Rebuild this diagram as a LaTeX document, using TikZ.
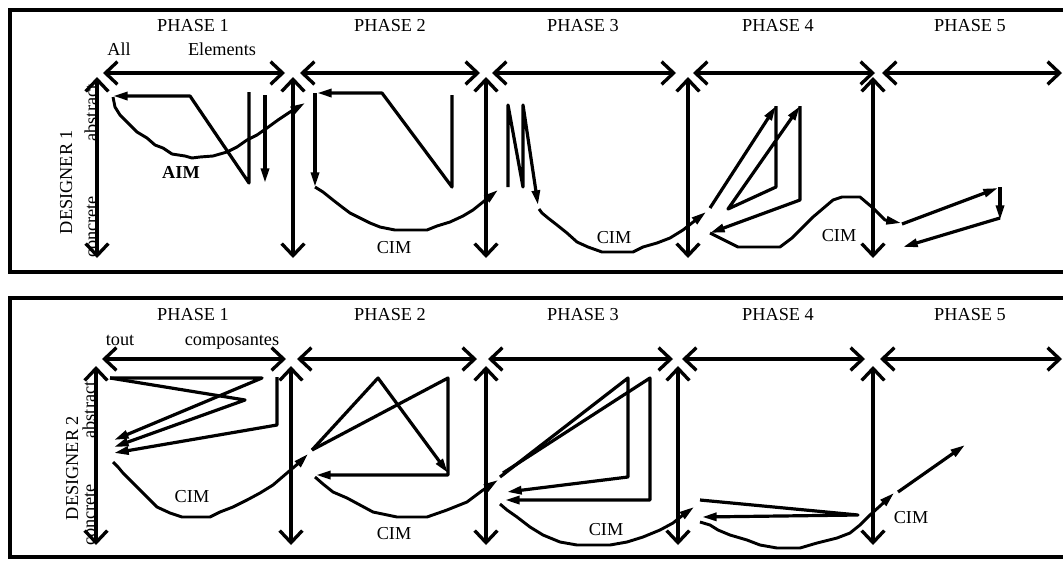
\documentclass[tikz,border=0pt]{standalone}
\usepackage{fontspec}
\setmainfont{Liberation Serif}
\usetikzlibrary{arrows.meta}
\begin{document}
\begin{tikzpicture}[x=0.75pt,y=-0.75pt,
  lbl/.style={font=\fontsize{13.7}{16}\selectfont, inner sep=0pt, anchor=base},
  vlbl/.style={lbl, rotate=90},
  frame/.style={line width=2.3pt},
  axis/.style={line width=2.5pt, {Straight Barb[length=9pt,width=17pt]}-{Straight Barb[length=9pt,width=17pt]}},
  sk/.style={line width=2.4pt, line join=round},
  arr/.style={sk, -{Triangle[length=11pt,width=6pt]}},
  wav/.style={line width=2.2pt, line join=round},
  warr/.style={wav, -{Triangle[length=11pt,width=6pt]}}]
\useasboundingbox (0,0) rectangle (1063,561);
\clip (0,0) rectangle (1063,561);

% frames
\draw[frame] (1080,10) -- (10,10) -- (10,272) -- (1080,272);
\draw[frame] (1080,298) -- (10,298) -- (10,557) -- (1080,557);

% axes, top panel
\foreach \a/\b in {103/285, 300/480, 492/676, 693/875, 882/1062}
  \draw[axis] (\a,73) -- (\b,73);
\foreach \x in {97, 293, 486, 688, 873}
  \draw[axis] (\x,77) -- (\x,258);
% axes, bottom panel
\foreach \a/\b in {102/286, 297/477, 488/673, 682/865, 880/1062}
  \draw[axis] (\a,359) -- (\b,359);
\foreach \x in {96, 291, 486, 678, 873}
  \draw[axis] (\x,366) -- (\x,545);

% phase labels
\foreach \x/\n in {193/1, 390/2, 583/3, 778/4, 970/5}{
  \node[lbl] (pt\n) at (\x,31) {PHASE \n};
  \node[lbl] (pb\n) at (\x,320) {PHASE \n};
}
\node[lbl] (all) at (119,55) {All};
\node[lbl] (elem) at (222,55) {Elements};
\node[lbl] (tout) at (120,345) {tout};
\node[lbl] (comp) at (232,345) {composantes};

\node[vlbl] (d1) at (72,182) {DESIGNER 1};
\node[vlbl] (ab1) at (97,113) {abstract};
\node[vlbl] (co1) at (97,227) {concrete};
\node[vlbl] (d2) at (78,468) {DESIGNER 2};
\node[vlbl] (ab2) at (95,410) {abstract};
\node[vlbl] (co2) at (95,515) {concrete};

% ---------- DESIGNER 1 ----------
% phase 1
\draw[arr] (249,92) -- (249,183) -- (190,96) -- (113,96);
\draw[arr] (265,95) -- (265,183);
\draw[warr] (113,97) -- (115,107) -- (120,115) -- (128,123) -- (137,132) -- (147,138) -- (155,145) -- (163,148) -- (172,154) -- (185,156) -- (192,158) -- (200,157) -- (213,156) -- (227,152) -- (237,147) -- (247,140) -- (257,135) -- (267,128) -- (278,120) -- (290,112) -- (305,103);
\node[lbl, font=\fontsize{13.7}{16}\selectfont\bfseries] (aim) at (181,178) {AIM};
% phase 2
\draw[arr] (452,95) -- (452,187) -- (382,93) -- (317,93);
\draw[arr] (315,93) -- (315,187);
\draw[warr] (315,187) -- (323,192) -- (333,200) -- (342,207) -- (350,213) -- (360,218) -- (370,223) -- (380,227) -- (395,230) -- (427,230) -- (437,226) -- (450,222) -- (463,216) -- (473,210) -- (483,202) -- (498,190);
\node[lbl] (c12) at (394,253) {CIM};
% phase 3
\draw[arr] (508,187) -- (508,105) -- (523,187) -- (523,105) -- (538,205);
\draw[warr] (539,209) -- (542,213) -- (548,218) -- (557,225) -- (567,233) -- (577,242) -- (588,247) -- (602,252) -- (633,252) -- (643,247) -- (657,243) -- (670,238) -- (683,230) -- (706,212);
\node[lbl] (c13) at (614,243) {CIM};
% phase 4
\draw[arr] (710,208) -- (776,106);
\draw[arr] (776,106) -- (776,187) -- (728,209) -- (800,106);
\draw[arr] (800,106) -- (800,200) -- (710,233);
\draw[warr] (710,233) -- (738,247) -- (780,247) -- (792,238) -- (813,217) -- (833,200) -- (842,197) -- (860,197) -- (873,208) -- (885,220) -- (901,223);
\node[lbl] (c14) at (839,241) {CIM};
% phase 5
\draw[arr] (902,224) -- (998,188);
\draw[arr] (1000,187) -- (1000,220);
\draw[arr] (1000,218) -- (903,247);

% ---------- DESIGNER 2 ----------
% phase 1
\draw[arr] (110,378) -- (262,378) -- (114,440);
\draw[arr] (110,378) -- (245,400) -- (114,447);
\draw[arr] (277,377) -- (277,425) -- (114,453);
\draw[warr] (113,462) -- (118,467) -- (123,473) -- (130,480) -- (137,487) -- (147,497) -- (157,507) -- (170,513) -- (182,517) -- (210,517) -- (220,512) -- (233,507) -- (247,500) -- (260,493) -- (273,485) -- (287,473) -- (300,462) -- (308,454);
\node[lbl] (c21) at (192,502) {CIM};
% phase 2
\draw[arr] (312,450) -- (378,378) -- (448,473);
\draw[arr] (312,450) -- (448,378) -- (448,475) -- (316,475);
\draw[warr] (315,477) -- (323,484) -- (333,492) -- (347,498) -- (360,505) -- (373,512) -- (397,517) -- (427,517) -- (447,510) -- (467,502) -- (483,490) -- (498,480);
\node[lbl] (c22) at (394,539) {CIM};
% phase 3
\draw[arr] (500,477) -- (628,378) -- (628,477) -- (507,492);
\draw[arr] (503,473) -- (650,378) -- (650,500) -- (505,500);
\draw[warr] (500,504) -- (507,510) -- (517,517) -- (530,527) -- (543,535) -- (560,542) -- (577,545) -- (610,545) -- (627,542) -- (643,537) -- (660,530) -- (673,523) -- (683,515) -- (694,507);
\node[lbl] (c23) at (606,535) {CIM};
% phase 4
\draw[arr] (700,500) -- (858,515) -- (702,517);
\draw[warr] (700,522) -- (710,525) -- (718,530) -- (730,535) -- (747,540) -- (760,545) -- (777,548) -- (800,548) -- (817,543) -- (837,538) -- (850,533) -- (860,525) -- (870,515) -- (880,506) -- (894,493);
% phase 5
\draw[arr] (898,492) -- (965,445);
\node[lbl] (c25) at (911,523) {CIM};
\end{tikzpicture}
\end{document}
